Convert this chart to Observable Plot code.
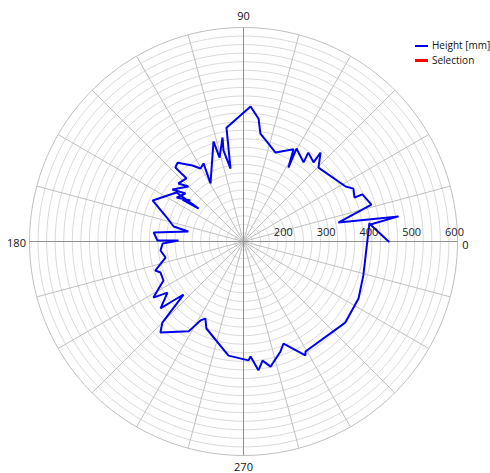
<!DOCTYPE html>
<html>
<head>
<meta charset="utf-8">
<script src="https://cdn.jsdelivr.net/npm/d3@7"></script>
<script src="https://cdn.jsdelivr.net/npm/@observablehq/plot@0.6"></script>
<style>
  html, body { margin: 0; padding: 0; background: #fff; }
  #wrap { position: relative; width: 490px; height: 473px; font-family: "Open Sans", sans-serif; }
  #legend { position: absolute; left: 415px; top: 38px; font-size: 10px; color: #111; line-height: 15px; white-space: nowrap; }
  #legend .row { display: flex; align-items: center; height: 15px; white-space: nowrap; }
  #legend .sw { width: 13px; flex: none; margin-right: 4px; }
</style>
</head>
<body>
<div id="wrap">
  <div id="chart"></div>
  <div id="legend">
    <div class="row"><span class="sw" style="border-top:2px solid #0000f0"></span>Height [mm]</div>
    <div class="row"><span class="sw" style="border-top:3px solid #ff0000"></span>Selection</div>
  </div>
</div>
<script>
// Series: angle (degrees, counter-clockwise from 0 at right) and height [mm]
const angles = [0, 7.6, 9.2, 11.3, 16.1, 21.6, 21.6, 25.7, 28.3, 44.6, 49.1, 48.5, 53.9, 52.8, 60.3, 58.7, 61.5,
  70.2, 76.4, 81.1, 83.0, 87.0, 98.5, 100.1, 102.4, 101.4, 105.9, 106.7, 119.6, 117.1, 120.5, 123.9, 129.9,
  132.6, 132.4, 132.1, 138.3, 135, 143.8, 140.4, 146.7, 142.3, 145.5, 143.7, 143.8, 155.7, 163.2, 165.4, 167.9,
  169.7, 174.3, 179.3, 179.1, 181.4, 186.2, 191.6, 198.2, 200.5, 206, 211.9, 213.9, 218.9, 220.1, 221.5, 225,
  227.6, 238.6, 241.4, 243.7, 246.9, 262.5, 272.4, 273.5, 276.6, 279.1, 282.2, 288.6, 291.4, 298.5, 299.4,
  320, 321.5, 333.6, 344.2, 368.1];
const heights = [439, 399, 467, 326, 411, 399, 379, 385, 371, 346, 375, 347, 357, 332, 350, 302, 345,
  321, 338, 355, 389, 416, 369, 273, 318, 348, 304, 344, 256, 305, 298, 314, 340,
  335, 318, 299, 304, 282, 306, 276, 287, 257, 273, 230, 294, 333, 285, 276, 267,
  231, 311, 301, 252, 289, 295, 286, 317, 307, 308, 348, 314, 349, 314, 287, 368,
  388, 346, 310, 301, 321, 369, 378, 369, 403, 382, 399, 371, 356, 403, 395,
  402, 404, 400, 391, 397];

// Axes
const rMin = 100, rMax = 600;
const circleTicks = d3.range(120, 601, 20);
const spokeAngles = d3.range(0, 360, 15);
const mainAngles = [0, 90, 180, 270];
const radialLabels = [200, 300, 400, 500, 600];
const angleLabels = ["0", "90", "180", "270"];

const rad = a => a * Math.PI / 180;
const px = (a, v) => (v - rMin) * Math.cos(rad(a));
const py = (a, v) => (v - rMin) * Math.sin(rad(a));

const series = angles.map((a, i) => ({a, v: heights[i]}));
const circles = circleTicks.flatMap(v => d3.range(0, 361, 2).map(a => ({a, v})));
const spokes = spokeAngles.map(a => ({a}));
const mains = mainAngles.map(a => ({a}));

const chart = Plot.plot({
  width: 490,
  height: 473,
  marginLeft: 29, marginRight: 33, marginTop: 27, marginBottom: 18,
  x: {domain: [-(rMax - rMin), rMax - rMin], axis: null},
  y: {domain: [-(rMax - rMin), rMax - rMin], axis: null},
  style: {fontFamily: "Open Sans, sans-serif", fontSize: "11px", background: "white", overflow: "visible"},
  marks: [
    Plot.line(circles, {x: d => px(d.a, d.v), y: d => py(d.a, d.v), z: "v",
      stroke: d => d.v === rMax ? "#c0c0c0" : "#dadada", strokeWidth: 1}),
    Plot.link(spokes, {x1: d => 0, y1: d => 0, x2: d => px(d.a, rMax), y2: d => py(d.a, rMax),
      stroke: "#c0c0c0", strokeWidth: 1}),
    Plot.link(mains, {x1: d => 0, y1: d => 0, x2: d => px(d.a, rMax), y2: d => py(d.a, rMax),
      stroke: "#909090", strokeWidth: 1}),
    Plot.line(series, {x: d => px(d.a, d.v), y: d => py(d.a, d.v), stroke: "#0000f0", strokeWidth: 2,
      strokeLinejoin: "miter"}),
    Plot.text(radialLabels, {x: d => px(0, d), y: d => 0, text: d => String(d), dx: -3, dy: -9,
      fill: "#222", fontSize: 11}),
    Plot.text(mainAngles, {x: d => px(d, rMax), y: d => py(d, rMax), text: (d, i) => angleLabels[i],
      fill: "#111", fontSize: 11, textAnchor: "middle"}),
  ]
});
// offset angle labels outside the circle
chart.querySelectorAll("g[aria-label='text']").forEach((g, gi) => {
  if (gi === 1) {
    const offs = [[8, 4], [0, -11], [-13, 2], [0, 12]];
    g.querySelectorAll("text").forEach((t, i) => {
      const [ox, oy] = offs[i];
      t.setAttribute("transform", (t.getAttribute("transform") || "") + ` translate(${ox},${oy})`);
    });
  }
});
document.getElementById("chart").appendChild(chart);
</script>
</body>
</html>
